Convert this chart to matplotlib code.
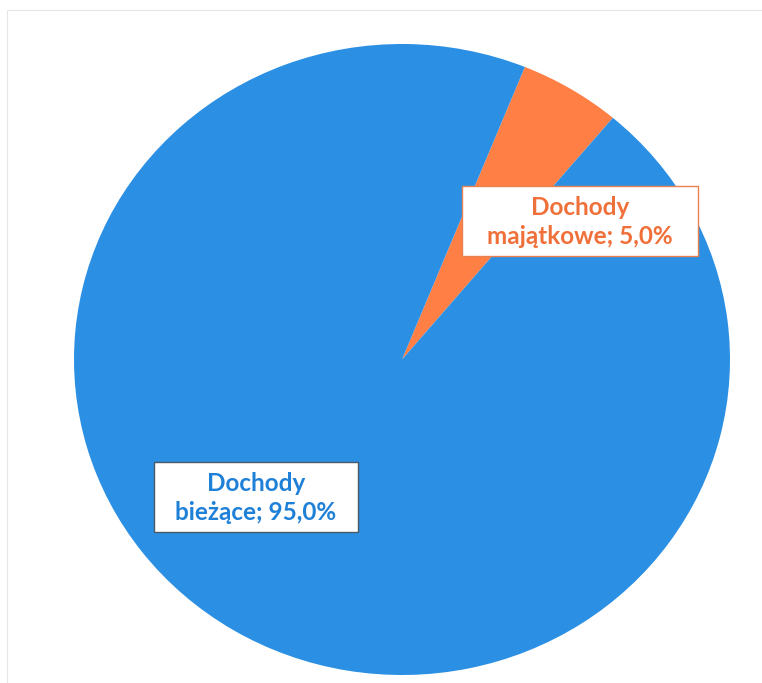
import matplotlib
matplotlib.use("Agg")
import matplotlib.pyplot as plt
from matplotlib.patches import Rectangle

# dane
kategorie = ["Dochody majątkowe", "Dochody bieżące"]
udzialy = [5.0, 95.0]
kolory = ["#FF7F45", "#2B8FE3"]
kolory_tekstu = ["#F0703A", "#1F80D8"]

W, H = 762, 683
fig = plt.figure(figsize=(W / 100, H / 100), dpi=100)
fig.patch.set_facecolor("white")

# pie lekko spłaszczony jak na skanie
ax = fig.add_axes([74 / W, (H - 675) / H, 656 / W, 631 / H])
ax.pie(udzialy, colors=kolory, startangle=50, counterclock=True,
       radius=1.0, wedgeprops=dict(linewidth=0))
ax.set_xlim(-1, 1)
ax.set_ylim(-1, 1)
ax.set_aspect("auto")
ax.axis("off")

# delikatna ramka ze skanu
fig.add_artist(Rectangle((7 / W, -0.1), 1.2, (H - 10) / H + 0.1, transform=fig.transFigure,
                         fill=False, edgecolor="#E6E6E6", linewidth=0.8))


def procent(v):
    return ("%.1f%%" % v).replace(".", ",")


def etykieta(x0, y0, x1, y1, tekst, kolor, ramka):
    fig.add_artist(Rectangle((x0 / W, 1 - y1 / H), (x1 - x0) / W, (y1 - y0) / H,
                             transform=fig.transFigure, facecolor="white",
                             edgecolor=ramka, linewidth=1.0))
    fig.text((x0 + x1) / 2 / W, 1 - (y0 + y1 + 2) / 2 / H, tekst, color=kolor,
             ha="center", va="center", fontsize=17.5, fontweight="bold",
             family=["Lato", "DejaVu Sans"], linespacing=1.35)


etykieta(462, 186, 698, 256,
         "Dochody\nmajątkowe; " + procent(udzialy[0]), kolory_tekstu[0], "#E8804F")
etykieta(154, 462, 358, 532,
         "Dochody\nbieżące; " + procent(udzialy[1]), kolory_tekstu[1], "#4A5A66")

fig.savefig("out.png", dpi=100)
